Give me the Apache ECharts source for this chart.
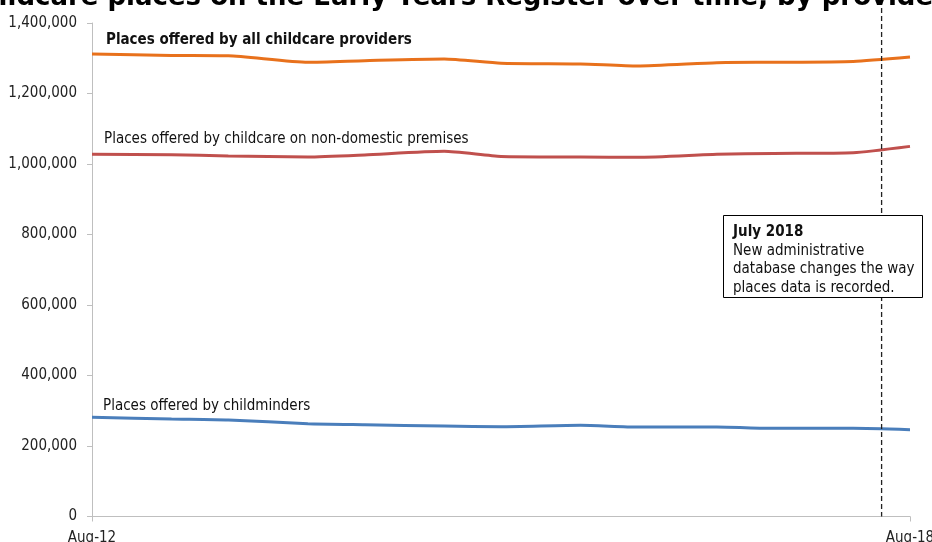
<!DOCTYPE html>
<html><head><meta charset="utf-8">
<script src="https://cdn.jsdelivr.net/npm/echarts@6/dist/echarts.min.js"></script>
<style>html,body{margin:0;padding:0;background:#fff}#c{width:932px;height:542px}</style>
</head><body><div id="c"></div>
<script>
// ---- data ----
const periods = ['Aug-12','Mar-13','Aug-13','Mar-14','Aug-14','Mar-15','Aug-15','Mar-16','Aug-16','Mar-17','Aug-17','Mar-18','Aug-18'];
const allProviders = [1312000,1308000,1307000,1288500,1293000,1298000,1286000,1284000,1278000,1287500,1288500,1291000,1303500];
const nonDomestic = [1027500,1026500,1022700,1020000,1025700,1036000,1021500,1020000,1019000,1027500,1030000,1032000,1050000];
const childminders = [281400,276600,273800,263300,260400,256700,254800,258700,253900,253900,250200,250200,246300];
const xTickLabels = ['Aug-12','Aug-18'];
const yTicks = [0,200000,400000,600000,800000,1000000,1200000,1400000];
const changeMonth = 69.5; // months after Aug-12 where the database change line sits
const titleText = 'Childcare places on the Early Years Register over time, by provider type';
const seriesNames = ['Places offered by all childcare providers','Places offered by childcare on non-domestic premises','Places offered by childminders'];
const noteTitle = 'July 2018';
const noteLines = ['New administrative','database changes the way','places data is recorded.'];

// ---- helpers ----
const monIdx = {Jan:0,Feb:1,Mar:2,Apr:3,May:4,Jun:5,Jul:6,Aug:7,Sep:8,Oct:9,Nov:10,Dec:11};
function toMonths(p){ const [m,y]=p.split('-'); return (2000+ +y)*12+monIdx[m] - ((2012)*12+7); }
const xs = periods.map(toMonths);
const xMin = toMonths(xTickLabels[0]), xMax = toMonths(xTickLabels[1]);
function pts(arr){ return arr.map((v,i)=>[xs[i],v]); }

const FONT = '"DejaVu Sans Condensed", "DejaVu Sans", sans-serif';
const TFONT = '"DejaVu Sans", sans-serif';
const chart = echarts.init(document.getElementById('c'));
const lineW = 3;
chart.setOption({
  animation:false,
  grid:{left:92,right:22,top:23,bottom:25.5,containLabel:false,outerBoundsMode:'none'},
  xAxis:{type:'value',min:xMin,max:xMax,interval:xMax-xMin,
    axisLine:{lineStyle:{color:'#bfbfbf',width:1}},
    axisTick:{show:true,length:5,lineStyle:{color:'#bfbfbf'}},
    splitLine:{show:false},
    axisLabel:{margin:14,fontFamily:FONT,fontSize:15,color:'#222',
      formatter:v=> v===xMin?xTickLabels[0]:(v===xMax?xTickLabels[1]:'')}},
  yAxis:{type:'value',min:yTicks[0],max:yTicks[yTicks.length-1],interval:yTicks[1]-yTicks[0],
    axisLine:{show:true,lineStyle:{color:'#bfbfbf',width:1}},
    axisTick:{show:true,length:5,lineStyle:{color:'#bfbfbf'}},
    splitLine:{show:false},
    axisLabel:{margin:15,fontFamily:FONT,fontSize:15,color:'#222',
      formatter:v=>v.toLocaleString('en-GB')}},
  series:[
    {type:'line',name:seriesNames[0],data:pts(allProviders),symbol:'none',smooth:0.2,lineStyle:{color:'#E8711C',width:lineW}},
    {type:'line',name:seriesNames[1],data:pts(nonDomestic),symbol:'none',smooth:0.2,lineStyle:{color:'#C0504D',width:lineW}},
    {type:'line',name:seriesNames[2],data:pts(childminders),symbol:'none',smooth:0.2,lineStyle:{color:'#4A7EBB',width:lineW}}
  ]
});

// overlays positioned through the chart's scales
const lx = chart.convertToPixel({gridIndex:0},[changeMonth,0])[0];
const botY = chart.convertToPixel({gridIndex:0},[0,yTicks[0]])[1];
const p0 = chart.convertToPixel({gridIndex:0},[xs[0],allProviders[0]]);
const p1 = chart.convertToPixel({gridIndex:0},[xs[0],nonDomestic[0]]);
const p2 = chart.convertToPixel({gridIndex:0},[xs[0],childminders[0]]);
const txt = (x,y,t,bold,fs)=>({type:'text',x:x,y:y,z:110,style:{text:t,fontFamily:FONT,fontSize:fs||15,fontWeight:bold?'bold':'normal',fill:'#111',textVerticalAlign:'middle'}});
chart.setOption({graphic:[
  {type:'text',x:-39,y:-2,z:110,style:{text:titleText,fontFamily:TFONT,fontSize:26,fontWeight:'bold',fill:'#000',textVerticalAlign:'middle'}},
  {type:'line',z:100,shape:{x1:lx,y1:0,x2:lx,y2:botY},style:{stroke:'#222',lineWidth:1.3,lineDash:[5,3]}},
  txt(p0[0]+14,p0[1]-14,seriesNames[0],true),
  txt(p1[0]+12,p1[1]-15,seriesNames[1],false),
  txt(p2[0]+11,p2[1]-11,seriesNames[2],false),
  {type:'rect',z:105,shape:{x:723.5,y:215.5,width:199,height:82},style:{fill:'#fff',stroke:'#000',lineWidth:1}},
  txt(733,232,noteTitle,true,15),
  txt(733,251,noteLines[0],false,15),
  txt(733,269.5,noteLines[1],false,15),
  txt(733,288,noteLines[2],false,15)
]});
</script></body></html>
